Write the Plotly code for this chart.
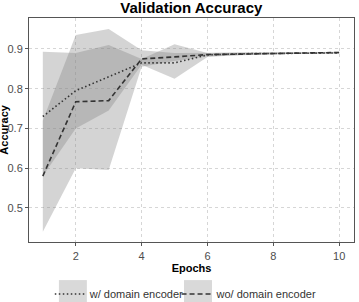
import plotly.graph_objects as go

epochs = [1, 2, 3, 4, 5, 6, 7, 8, 9, 10]

# w/ domain encoder (dotted)
w_mean = [0.730, 0.795, 0.830, 0.865, 0.865, 0.885, 0.888, 0.889, 0.890, 0.890]
w_low  = [0.580, 0.700, 0.745, 0.860, 0.825, 0.880, 0.885, 0.887, 0.888, 0.888]
w_high = [0.893, 0.890, 0.910, 0.875, 0.912, 0.890, 0.891, 0.891, 0.892, 0.892]

# wo/ domain encoder (dashed)
wo_mean = [0.580, 0.767, 0.770, 0.875, 0.880, 0.886, 0.887, 0.889, 0.890, 0.891]
wo_low  = [0.440, 0.600, 0.595, 0.855, 0.870, 0.882, 0.884, 0.887, 0.888, 0.889]
wo_high = [0.720, 0.935, 0.950, 0.897, 0.890, 0.890, 0.890, 0.891, 0.892, 0.893]

band = "rgba(128,128,128,0.34)"
linec = "#333333"
FONT = "Liberation Sans, Arial, sans-serif"

fig = go.Figure()
fig.add_trace(go.Scatter(x=epochs, y=wo_low, mode="lines", line=dict(width=0),
                         showlegend=False, hoverinfo="skip"))
fig.add_trace(go.Scatter(x=epochs, y=wo_high, mode="lines", line=dict(width=0),
                         fill="tonexty", fillcolor=band, showlegend=False, hoverinfo="skip"))
fig.add_trace(go.Scatter(x=epochs, y=w_low, mode="lines", line=dict(width=0),
                         showlegend=False, hoverinfo="skip"))
fig.add_trace(go.Scatter(x=epochs, y=w_high, mode="lines", line=dict(width=0),
                         fill="tonexty", fillcolor=band, showlegend=False, hoverinfo="skip"))
fig.add_trace(go.Scatter(x=epochs, y=w_mean, mode="lines", name="w/ domain encoder",
                         line=dict(color=linec, width=1.6, dash="1.5px,2.5px"), legend="legend"))
fig.add_trace(go.Scatter(x=epochs, y=wo_mean, mode="lines", name="wo/ domain encoder",
                         line=dict(color=linec, width=1.6, dash="5px,3px"), legend="legend2"))

axis_common = dict(
    showline=True, linecolor="#555555", linewidth=1, mirror=True,
    showgrid=True, gridcolor="#d6d6d6", griddash="3px,3px", gridwidth=1,
    ticks="outside", ticklen=3, tickcolor="#555555",
    tickfont=dict(family=FONT, size=11, color="#4d4d4d"),
    zeroline=False, automargin=False,
)

legend_common = dict(orientation="h", y=-0.232, yanchor="middle",
                     font=dict(family=FONT, size=11, color="#333333"),
                     bgcolor="rgba(0,0,0,0)", itemwidth=30, traceorder="normal")

# legend key boxes (grey ribbons behind the line keys)
key_boxes = [(0.092, 0.178), (0.477, 0.563)]
shapes = [dict(type="rect", xref="paper", yref="paper", x0=a, x1=b, y0=-0.268, y1=-0.170,
               fillcolor="#d9d9d9", line=dict(width=0), layer="below") for a, b in key_boxes]

fig.update_layout(
    width=359, height=302,
    margin=dict(l=29, r=5, t=18, b=60, autoexpand=False),
    plot_bgcolor="white", paper_bgcolor="white",
    title=dict(text="<b>Validation Accuracy</b>", x=0.533, xanchor="center",
               y=0.973, yanchor="middle", font=dict(family=FONT, size=15, color="black")),
    xaxis=dict(range=[0.58, 10.45], tickvals=[2, 4, 6, 8, 10], ticklabelstandoff=1,
               title=dict(text="<b>Epochs</b>", standoff=3,
                          font=dict(family=FONT, size=11, color="black")),
               **axis_common),
    yaxis=dict(range=[0.414, 0.978], tickvals=[0.5, 0.6, 0.7, 0.8, 0.9],
               tickformat=".1f", **axis_common),
    legend=dict(x=0.064, xanchor="left", **legend_common),
    legend2=dict(x=0.454, xanchor="left", **legend_common),
    shapes=shapes,
    annotations=[dict(text="<b>Accuracy</b>", xref="paper", yref="paper", x=-0.078, y=0.5,
                      xanchor="center", yanchor="middle", textangle=-90, showarrow=False,
                      font=dict(family=FONT, size=11, color="black"))],
    showlegend=True,
)

fig.write_html("out.html")
